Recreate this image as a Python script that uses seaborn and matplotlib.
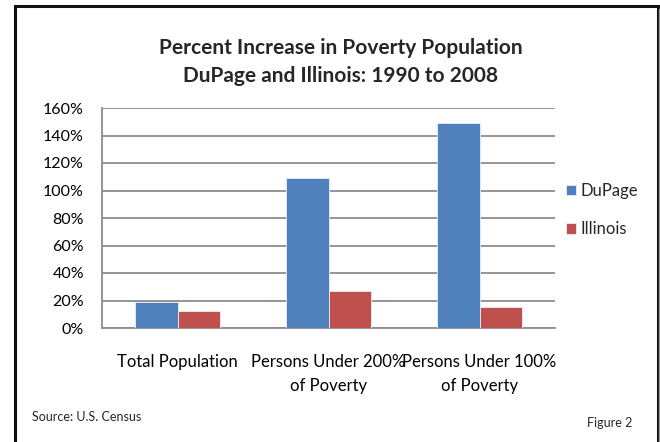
import matplotlib
matplotlib.use("Agg")
import matplotlib.pyplot as plt
import seaborn as sns
import pandas as pd
from matplotlib.patches import Rectangle
from matplotlib.ticker import FuncFormatter

categories = ["Total Population", "Persons Under 200%\nof Poverty", "Persons Under 100%\nof Poverty"]
dupage = [0.19, 1.09, 1.49]
illinois = [0.125, 0.27, 0.153]
series = ["DuPage", "Illinois"]
yticks = [0, 0.2, 0.4, 0.6, 0.8, 1.0, 1.2, 1.4, 1.6]
title_lines = ["Percent Increase in Poverty Population", "DuPage and Illinois: 1990 to 2008"]

df = pd.DataFrame({
    "category": categories * 2,
    "value": dupage + illinois,
    "series": [series[0]] * 3 + [series[1]] * 3,
})

sns.set_style("white")
plt.rcParams["font.family"] = ["Lato", "DejaVu Sans"]

W, H = 660, 442
fig = plt.figure(figsize=(W / 100, H / 100), dpi=100)
fig.patch.set_facecolor("white")

# outer frame
fig.patches.append(Rectangle((15.5 / W, -0.05), 642 / W, 1.05 - 6 / H, transform=fig.transFigure,
                             fill=False, edgecolor="#111111", linewidth=2.2, zorder=0))
fig.patches.append(Rectangle((659 / W, -0.05), 0.5 / W, 1.05 - 9 / H, transform=fig.transFigure,
                             fill=False, edgecolor="#999999", linewidth=1.0, zorder=0))

ax = fig.add_axes([102 / W, 1 - 328 / H, (555 - 102) / W, (328 - 108) / H])
sns.barplot(data=df, x="category", y="value", hue="series", palette=["#4F81BD", "#C0504D"],
            saturation=1, width=0.565, gap=0, edgecolor="#e8eef6", linewidth=0.6, ax=ax,
            zorder=3, legend=True)

ax.set_ylim(0, 1.6)
ax.set_yticks(yticks)
ax.yaxis.set_major_formatter(FuncFormatter(lambda v, p: f"{v * 100:.0f}%"))
ax.set_xlabel("")
ax.set_ylabel("")
ax.grid(axis="y", color="#8c8c8c", linewidth=1.3, zorder=0)
ax.set_axisbelow(True)
for s in ["top", "right"]:
    ax.spines[s].set_visible(False)
for s in ["left", "bottom"]:
    ax.spines[s].set_color("#8c8c8c")
    ax.spines[s].set_linewidth(1.3)
ax.tick_params(axis="y", labelsize=11.5, length=0, pad=13, colors="#000000")
ax.tick_params(axis="x", labelsize=12, length=0, pad=19, colors="#000000")
for lab in ax.get_xticklabels():
    lab.set_linespacing(1.6)

handles, labels = ax.get_legend_handles_labels()
ax.legend(handles, labels, loc="center left", bbox_to_anchor=(551 / W, 1 - 210 / H),
          bbox_transform=fig.transFigure, frameon=False, fontsize=12,
          handlelength=0.6, handleheight=0.6, handletextpad=0.3, labelspacing=1.35)

fig.text(341 / W, 1 - 48 / H, title_lines[0], ha="center", va="center", fontsize=15, fontweight="bold")
fig.text(341 / W, 1 - 76 / H, title_lines[1], ha="center", va="center", fontsize=15, fontweight="bold")
fig.text(32 / W, 1 - 417 / H, "Source: U.S. Census", ha="left", va="center", fontsize=9)
fig.text(632 / W, 1 - 423 / H, "Figure 2", ha="right", va="center", fontsize=9)

fig.savefig("out.png", dpi=100, facecolor="white")
